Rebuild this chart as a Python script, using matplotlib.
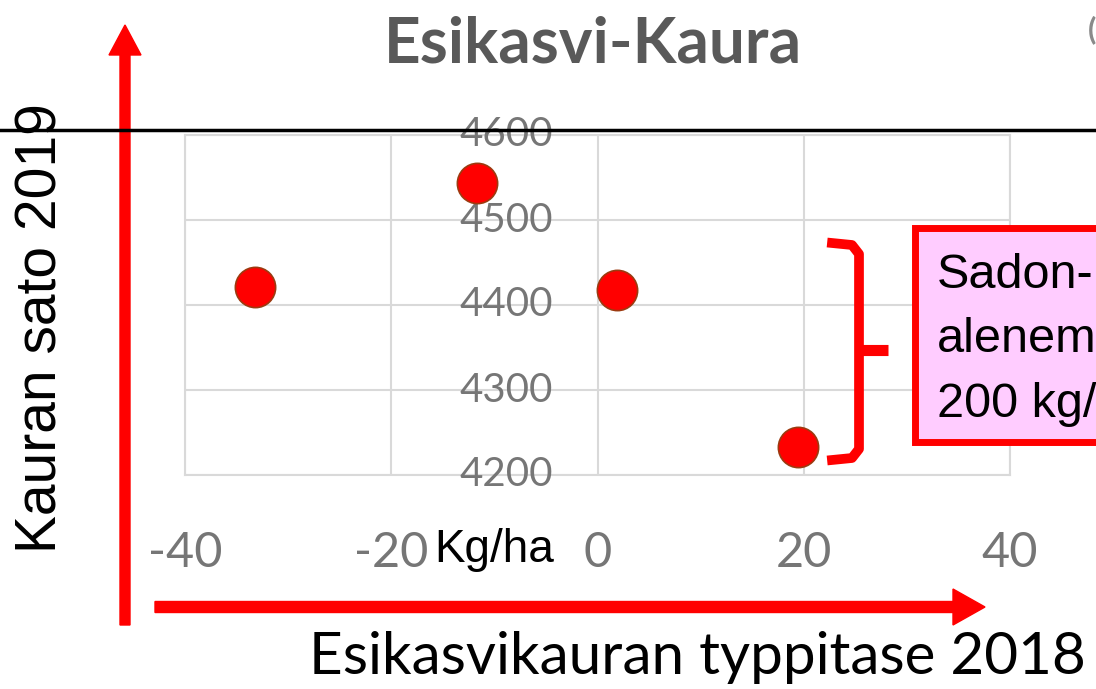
import numpy as np
import matplotlib.pyplot as plt
import matplotlib.patches as mpatches
from matplotlib.lines import Line2D

# data
typpitase = [-33.2, -11.7, 1.9, 19.4]
sato = [4421, 4543, 4418, 4233]

x_ticks = [-40, -20, 0, 20, 40]
x_labels = ["-40", "-20", "0", "20", "40"]
y_ticks = [4200, 4300, 4400, 4500, 4600]

W, H = 1096, 689
fig = plt.figure(figsize=(W / 100, H / 100), dpi=100)


def inch(x, y):
    # pixel position measured from top-left -> inches from bottom-left
    return x / 100, (H - y) / 100


ax = fig.add_axes([185 / W, 1 - 475 / H, 825 / W, 340 / H])
ax.set_xlim(-40, 40)
ax.set_ylim(4200, 4600)
ax.set_xticks(x_ticks)
ax.set_xticklabels(x_labels, fontfamily="Lato")
ax.set_yticks(y_ticks)
ax.grid(True, color="#d9d9d9", linewidth=1.5)
ax.set_axisbelow(True)
for s in ax.spines.values():
    s.set_color("#d9d9d9")
    s.set_linewidth(1.5)
ax.tick_params(axis="x", length=0, pad=40, labelsize=35, labelcolor="#767676")
ax.tick_params(axis="y", length=0, labelleft=False)

# y tick labels sit inside the plot, Excel style
for v in y_ticks:
    ax.text(-4.3, v, str(v), ha="right", va="center", fontsize=29,
            color="#767676", family="Lato", clip_on=False)

ax.plot(typpitase, sato, "o", markersize=29, markerfacecolor="#ff0000",
        markeredgecolor="#9c3a10", markeredgewidth=1.2, zorder=3)

# titles and labels
fig.text(593 / W, 1 - 44 / H, "Esikasvi-Kaura", ha="center", va="center",
         fontsize=46, fontweight="bold", color="#595959", family="Lato")
fig.text(42 / W, 1 - 328 / H, "Kauran sato 2019", ha="center", va="center",
         rotation=90, fontsize=41, color="black", family="Liberation Sans")
fig.text(697 / W, 1 - 658 / H, "Esikasvikauran typpitase 2018", ha="center",
         va="center", fontsize=42, color="black", family="Lato")
fig.text(494 / W, 1 - 550 / H, "Kg/ha", ha="center", va="center",
         fontsize=33, color="black", family="Liberation Sans")

# black line across the slide
fig.add_artist(Line2D([0, 1], [1 - 130 / H, 1 - 130 / H], color="black",
                      linewidth=2.5, transform=fig.transFigure, zorder=10))

# red arrows
x0, y0 = inch(125, 625)
x1, y1 = inch(125, 25)
fig.add_artist(mpatches.FancyArrow(x0, y0, 0, y1 - y0, width=0.1,
                                   head_width=0.32, head_length=0.3,
                                   length_includes_head=True, color="#ff0000",
                                   transform=fig.dpi_scale_trans, zorder=9))
x0, y0 = inch(155, 607)
x1, y1 = inch(985, 607)
fig.add_artist(mpatches.FancyArrow(x0, y0, x1 - x0, 0, width=0.11,
                                   head_width=0.36, head_length=0.32,
                                   length_includes_head=True, color="#ff0000",
                                   transform=fig.dpi_scale_trans, zorder=9))

# brace
bx = [832, 852, 859, 859, 852, 832]
by = [243, 245, 254, 449, 458, 460]
pts = [inch(a, b) for a, b in zip(bx, by)]
fig.add_artist(Line2D([p[0] for p in pts], [p[1] for p in pts],
                      color="#ff0000", linewidth=7, solid_joinstyle="round",
                      transform=fig.dpi_scale_trans, zorder=9))
s0 = inch(856, 350)
s1 = inch(888, 350)
fig.add_artist(Line2D([s0[0], s1[0]], [s0[1], s1[1]], color="#ff0000",
                      linewidth=8, solid_capstyle="butt",
                      transform=fig.dpi_scale_trans, zorder=9))

# text box
bx0, by0 = inch(915, 442)
fig.add_artist(mpatches.Rectangle((bx0, by0), 3.0, (442 - 228) / 100,
                                  facecolor="#ffccff", edgecolor="#ff0000",
                                  linewidth=5, transform=fig.dpi_scale_trans,
                                  zorder=9))
fig.text(937 / W, 1 - 417 / H, "Sadon-\nalenema\n200 kg/ha", ha="left",
         va="baseline", fontsize=35, color="black", family="Liberation Sans",
         linespacing=1.56, zorder=11)

fig.text(1088 / W, 1 - 30 / H, "(", ha="left", va="center", fontsize=22,
         color="#8a8a8a", fontweight="bold", family="Lato")

fig.savefig("out.png", dpi=100)
